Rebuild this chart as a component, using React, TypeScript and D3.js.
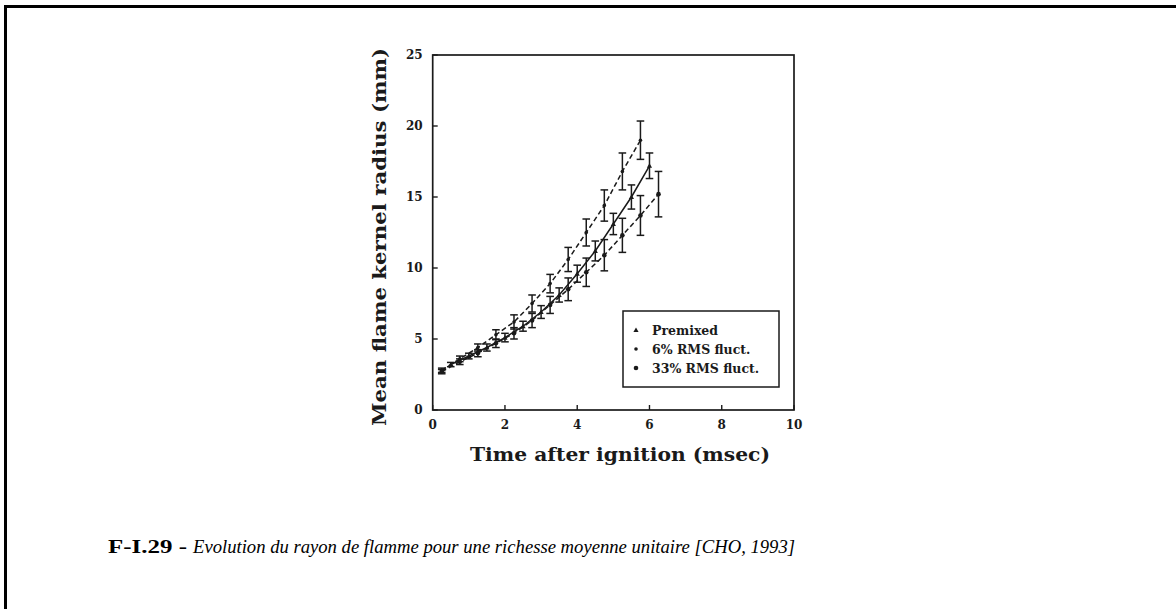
import React from 'react';
import * as d3 from 'd3';

// ---- data ----
const xTicks = [0, 2, 4, 6, 8, 10];
const yTicks = [0, 5, 10, 15, 20, 25];
const legendLabels = ['Premixed', '6% RMS fluct.', '33% RMS fluct.'];

// solid line (Premixed)
const premixedTime = [0.5, 1.0, 1.5, 2.0, 2.5, 3.0, 3.5, 4.0, 4.5, 5.0, 5.5, 6.0];
const premixedRadius = [3.2, 3.8, 4.4, 5.1, 5.9, 6.9, 8.1, 9.6, 11.2, 13.1, 15.0, 17.2];
const premixedErr = [0.15, 0.2, 0.25, 0.3, 0.35, 0.45, 0.5, 0.6, 0.7, 0.75, 0.85, 0.9];

// upper dashed line
const rms6Time = [0.25, 0.75, 1.25, 1.75, 2.25, 2.75, 3.25, 3.75, 4.25, 4.75, 5.25, 5.75];
const rms6Radius = [2.8, 3.6, 4.4, 5.3, 6.2, 7.5, 8.9, 10.6, 12.5, 14.4, 16.8, 19.0];
const rms6Err = [0.15, 0.2, 0.25, 0.35, 0.5, 0.6, 0.65, 0.85, 0.95, 1.1, 1.3, 1.35];

// lower dashed line
const rms33Time = [0.25, 0.75, 1.25, 1.75, 2.25, 2.75, 3.25, 3.75, 4.25, 4.75, 5.25, 5.75, 6.25];
const rms33Radius = [2.7, 3.4, 4.0, 4.7, 5.4, 6.3, 7.4, 8.5, 9.7, 10.9, 12.3, 13.7, 15.2];
const rms33Err = [0.15, 0.2, 0.25, 0.3, 0.4, 0.5, 0.6, 0.8, 1.0, 1.1, 1.2, 1.4, 1.6];

const captionBold = 'F-I.29 -';
const captionItalic = 'Evolution du rayon de flamme pour une richesse moyenne unitaire [CHO, 1993]';

const W = 1176;
const H = 609;
const left = 432.7, right = 794, top = 55, bottom = 410;

const x = d3.scaleLinear().domain([0, 10]).range([left, right]);
const y = d3.scaleLinear().domain([0, 25]).range([bottom, top]);

const serif = "'DejaVu Serif', 'Liberation Serif', serif";
const ink = '#1a1a1a';

type Series = { t: number[]; r: number[]; e: number[]; dash: string | null; marker: 'tri' | 'dot' | 'bigdot' };

const series: Series[] = [
  { t: premixedTime, r: premixedRadius, e: premixedErr, dash: null, marker: 'tri' },
  { t: rms6Time, r: rms6Radius, e: rms6Err, dash: '5,3', marker: 'dot' },
  { t: rms33Time, r: rms33Radius, e: rms33Err, dash: '5,3', marker: 'bigdot' },
];

function Marker({ cx, cy, kind }: { cx: number; cy: number; kind: string }) {
  if (kind === 'tri') {
    const s = 2.6;
    return <path d={`M${cx},${cy - s} L${cx + s},${cy + s * 0.8} L${cx - s},${cy + s * 0.8} Z`} fill={ink} />;
  }
  return <circle cx={cx} cy={cy} r={kind === 'bigdot' ? 2.3 : 1.8} fill={ink} />;
}

export default function App() {
  const line = d3.line<[number, number]>().x(d => x(d[0])).y(d => y(d[1]));
  const cap = 3.8;
  return (
    <svg width={W} height={H} style={{ position: 'absolute', left: 0, top: 0, background: '#fff' }}>
      <rect x={0} y={0} width={W} height={H} fill="#fff" />
      {/* page frame */}
      <line x1={5.5} y1={5} x2={5.5} y2={H} stroke="#000" strokeWidth={3} />
      <line x1={4} y1={6.5} x2={W} y2={6.5} stroke="#000" strokeWidth={3} />

      {/* plot box */}
      <rect x={left} y={top} width={right - left} height={bottom - top} fill="none" stroke={ink} strokeWidth={1.7} />

      {/* ticks */}
      {xTicks.map(v => (
        <g key={'xt' + v}>
          <line x1={x(v)} x2={x(v)} y1={bottom} y2={bottom - 5} stroke={ink} strokeWidth={1.4} />
          <text x={x(v)} y={bottom + 19} textAnchor="middle" fontFamily={serif} fontWeight="bold" fontSize={12} fill={ink}>{v}</text>
        </g>
      ))}
      {yTicks.map(v => (
        <g key={'yt' + v}>
          <line x1={left} x2={left + 5} y1={y(v)} y2={y(v)} stroke={ink} strokeWidth={1.4} />
          <text x={left - 10} y={y(v) + 4} textAnchor="end" fontFamily={serif} fontWeight="bold" fontSize={12} fill={ink}>{v}</text>
        </g>
      ))}

      {/* axis titles */}
      <text x={620} y={461} textAnchor="middle" fontFamily={serif} fontWeight="bold" fontSize={19} fill={ink}
        textLength={300} lengthAdjust="spacingAndGlyphs">Time after ignition (msec)</text>
      <text transform={`translate(386,237) rotate(-90)`} textAnchor="middle" fontFamily={serif} fontWeight="bold" fontSize={19} fill={ink}
        textLength={378} lengthAdjust="spacingAndGlyphs">Mean flame kernel radius (mm)</text>

      {/* series */}
      {series.map((s, i) => {
        const pts: [number, number][] = s.t.map((t, j) => [t, s.r[j]]);
        return (
          <g key={'s' + i}>
            <path d={line(pts) || ''} fill="none" stroke={ink} strokeWidth={1.5} strokeDasharray={s.dash || undefined} />
            {s.t.map((t, j) => {
              const cx = x(t);
              const y1 = y(s.r[j] + s.e[j]);
              const y2 = y(s.r[j] - s.e[j]);
              return (
                <g key={j}>
                  <line x1={cx} x2={cx} y1={y1} y2={y2} stroke={ink} strokeWidth={1.5} />
                  <line x1={cx - cap} x2={cx + cap} y1={y1} y2={y1} stroke={ink} strokeWidth={1.5} />
                  <line x1={cx - cap} x2={cx + cap} y1={y2} y2={y2} stroke={ink} strokeWidth={1.5} />
                  <Marker cx={cx} cy={y(s.r[j])} kind={s.marker} />
                </g>
              );
            })}
          </g>
        );
      })}

      {/* legend */}
      <rect x={623} y={311} width={156} height={76} fill="#fff" stroke={ink} strokeWidth={1.5} />
      {legendLabels.map((lab, i) => (
        <g key={'lg' + i}>
          <Marker cx={636} cy={330 + i * 19} kind={series[i].marker} />
          <text x={652} y={334.5 + i * 19} fontFamily={serif} fontWeight="bold" fontSize={12.5} fill={ink}>{lab}</text>
        </g>
      ))}

      {/* caption */}
      <text x={108} y={553} fontFamily="'Liberation Serif', 'DejaVu Serif', serif" fontSize={19} fontWeight="bold" fill="#000"
        textLength={79} lengthAdjust="spacingAndGlyphs">{captionBold}</text>
      <text x={193} y={553} fontFamily="'Liberation Serif', 'DejaVu Serif', serif" fontSize={19} fontStyle="italic" fill="#000"
        textLength={602} lengthAdjust="spacingAndGlyphs">{captionItalic}</text>
    </svg>
  );
}
